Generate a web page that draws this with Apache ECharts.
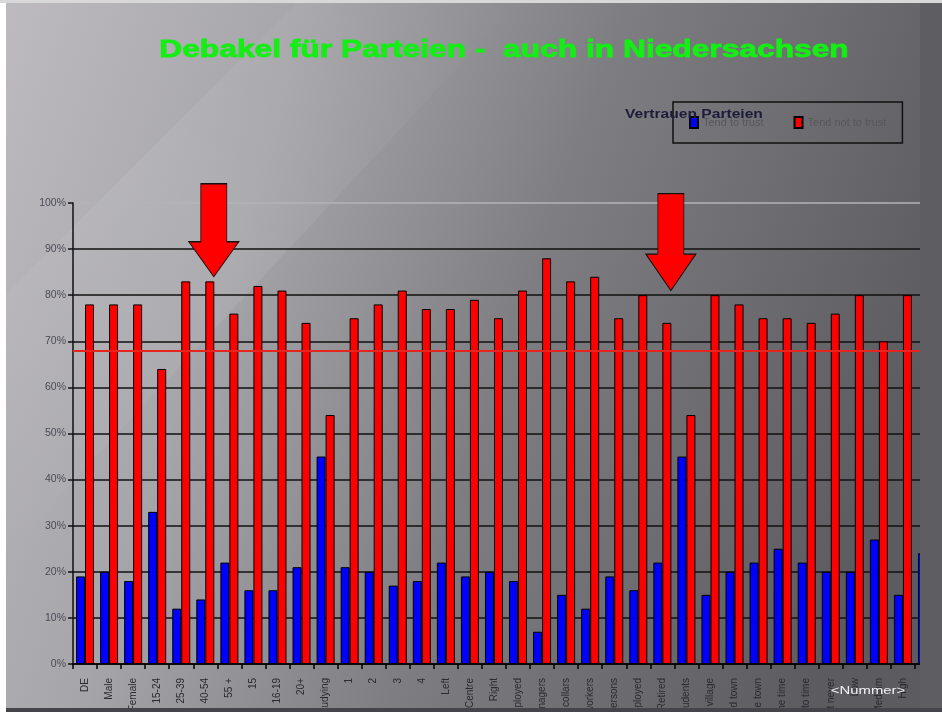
<!DOCTYPE html>
<html>
<head>
<meta charset="utf-8">
<script src="https://cdn.jsdelivr.net/npm/echarts@6/dist/echarts.min.js"></script>
<style>
  html, body { margin: 0; padding: 0; background: #ffffff; }
  #chart { width: 942px; height: 712px; }
</style>
</head>
<body>
<div id="chart"></div>
<script>
// Survey groups along the x axis
const categories = [
  'DE', 'Male', 'Female', '15-24', '25-39', '40-54', '55 +', '15', '16-19', '20+',
  'Still Studying', '1', '2', '3', '4', 'Left', 'Centre', 'Right', 'Self-employed', 'Managers',
  'Other white collars', 'Manual workers', 'House persons', 'Unemployed', 'Retired', 'Students',
  'Rural village', 'Small/mid town', 'Large town', 'Most of the time', 'From time to time',
  'Almost never', 'Low', 'Medium', 'High', 'Total'
];

// Share of respondents (%)
const tendToTrust = [19, 20, 18, 33, 12, 14, 22, 16, 16, 21, 45, 21, 20, 17, 18, 22, 19, 20,
  18, 7, 15, 12, 19, 16, 22, 45, 15, 20, 22, 25, 22, 20, 20, 27, 15, 24];
const tendNotToTrust = [78, 78, 78, 64, 83, 83, 76, 82, 81, 74, 54, 75, 78, 81, 77, 77, 79, 75,
  81, 88, 83, 84, 75, 80, 74, 54, 80, 78, 75, 75, 74, 76, 80, 70, 80, null];

// Reference level drawn across the plot
const referenceLevel = 68;

// Highlighted groups: [category, value at arrow tip]
const highlights = [['40-54', 84], ['Retired', 81]];

const seriesNames = ['Tend to trust', 'Tend not to trust'];
const titleText = 'Debakel für Parteien -  auch in Niedersachsen';
const legendTitle = 'Vertrauen Parteien';
const footerText = '<Nummer>';

const arrowPath = 'path://M12,0 L38,0 L38,58 L50,58 L25,93 L0,58 L12,58 Z';

const chart = echarts.init(document.getElementById('chart'), null, { renderer: 'canvas' });

chart.setOption({
  animation: false,
  backgroundColor: {
    type: 'linear', x: 0, y: 0, x2: 1, y2: 0.45,
    colorStops: [
      { offset: 0, color: '#bdbbc0' },
      { offset: 0.3, color: '#a6a5aa' },
      { offset: 0.6, color: '#7e7d82' },
      { offset: 1, color: '#5c5b60' }
    ]
  },
  textStyle: { fontFamily: 'Liberation Sans, Arial, sans-serif' },
  grid: { left: 73, right: 3, top: 203, bottom: 48, containLabel: false, outerBoundsMode: 'none' },
  legend: {
    data: seriesNames,
    left: 673,
    top: 102,
    orient: 'horizontal',
    itemWidth: 8,
    itemHeight: 11,
    itemGap: 30,
    padding: [14, 16, 14, 16],
    borderColor: '#111111',
    borderWidth: 1.5,
    icon: 'rect',
    textStyle: { color: '#57565c', fontSize: 11 }
  },
  xAxis: {
    type: 'category',
    data: categories,
    boundaryGap: true,
    axisLine: { show: true, lineStyle: { color: '#000000', width: 1.5 } },
    axisTick: { show: true, length: 5, lineStyle: { color: '#000000', width: 1.5 } },
    axisLabel: {
      interval: 0,
      rotate: 90,
      margin: 14,
      fontSize: 10,
      color: '#2a2a30'
    },
    splitLine: { show: false }
  },
  yAxis: {
    type: 'value',
    min: 0,
    max: 100,
    interval: 10,
    axisLine: { show: true, lineStyle: { color: '#111111', width: 1.5 } },
    axisTick: { show: true, length: 5, inside: false, lineStyle: { color: '#111111', width: 1.5 } },
    axisLabel: {
      formatter: '{value}%',
      fontSize: 10.5,
      color: '#4c4b55',
      margin: 7
    },
    splitLine: {
      show: true,
      lineStyle: {
        color: ['#111111', '#111111', '#111111', '#111111', '#111111', '#111111',
          '#111111', '#111111', '#111111', '#111111', '#b4b3b8'],
        width: 1.5
      }
    }
  },
  series: [
    {
      name: seriesNames[0],
      type: 'bar',
      data: tendToTrust,
      barWidth: 9,
      barGap: '0%',
      itemStyle: { color: '#0000ff', borderColor: '#000000', borderWidth: 1 }
    },
    {
      name: seriesNames[1],
      type: 'bar',
      data: tendNotToTrust,
      barWidth: 9,
      itemStyle: { color: '#ff0000', borderColor: '#000000', borderWidth: 1 },
      markLine: {
        silent: true,
        symbol: 'none',
        label: { show: false },
        lineStyle: { color: '#e8241e', width: 2, type: 'solid' },
        data: [{ yAxis: referenceLevel }]
      },
      markPoint: {
        silent: true,
        label: { show: false },
        itemStyle: { color: '#ff0000', borderColor: '#111111', borderWidth: 1 },
        data: highlights.map(function (h, i) {
          return {
            coord: [h[0], h[1]],
            symbol: arrowPath,
            symbolKeepAspect: false,
            symbolSize: [50, i === 0 ? 93 : 97],
            symbolOffset: [4, '-50%']
          };
        })
      }
    }
  ],
  graphic: [
    // soft light band across the upper left of the slide
    {
      type: 'polygon',
      z: -10,
      silent: true,
      shape: { points: [[0, 300], [300, 0], [520, 0], [0, 560]] },
      style: {
        fill: {
          type: 'linear', x: 0, y: 1, x2: 1, y2: 0,
          colorStops: [
            { offset: 0, color: 'rgba(255,255,255,0)' },
            { offset: 0.5, color: 'rgba(255,255,255,0.08)' },
            { offset: 1, color: 'rgba(255,255,255,0)' }
          ]
        }
      }
    },
    // slide edge on the right
    {
      type: 'rect', z: 100, silent: true,
      shape: { x: 920, y: 0, width: 22, height: 712 },
      style: { fill: '#5e5d62' }
    },
    // slide frame
    {
      type: 'rect', z: 101, silent: true,
      shape: { x: 0, y: 0, width: 6, height: 712 },
      style: { fill: '#ffffff' }
    },
    {
      type: 'rect', z: 101, silent: true,
      shape: { x: 0, y: 0, width: 942, height: 3 },
      style: { fill: '#d8d8da' }
    },
    {
      type: 'rect', z: 101, silent: true,
      shape: { x: 6, y: 708, width: 936, height: 4 },
      style: { fill: '#45444a' }
    },
    // headline
    {
      type: 'text', z: 102, silent: true,
      x: 504, y: 51,
      scaleX: 1.35,
      style: {
        text: titleText,
        fill: '#14ee14',
        stroke: '#14ee14',
        lineWidth: 0.8,
        font: 'bold 23.5px "Liberation Sans", Arial, sans-serif',
        textAlign: 'center',
        textVerticalAlign: 'middle'
      }
    },
    // caption over the legend box
    {
      type: 'text', z: 102, silent: true,
      x: 625, y: 114,
      scaleX: 1.2,
      style: {
        text: legendTitle,
        fill: '#1c1c3a',
        font: 'bold 13px "Liberation Sans", Arial, sans-serif',
        textAlign: 'left',
        textVerticalAlign: 'middle'
      }
    },
    // slide number placeholder
    {
      type: 'text', z: 102, silent: true,
      x: 868, y: 691,
      scaleX: 1.35,
      style: {
        text: footerText,
        fill: '#f2f2f4',
        font: '11px "Liberation Sans", Arial, sans-serif',
        textAlign: 'center',
        textVerticalAlign: 'middle'
      }
    }
  ]
});
</script>
</body>
</html>
